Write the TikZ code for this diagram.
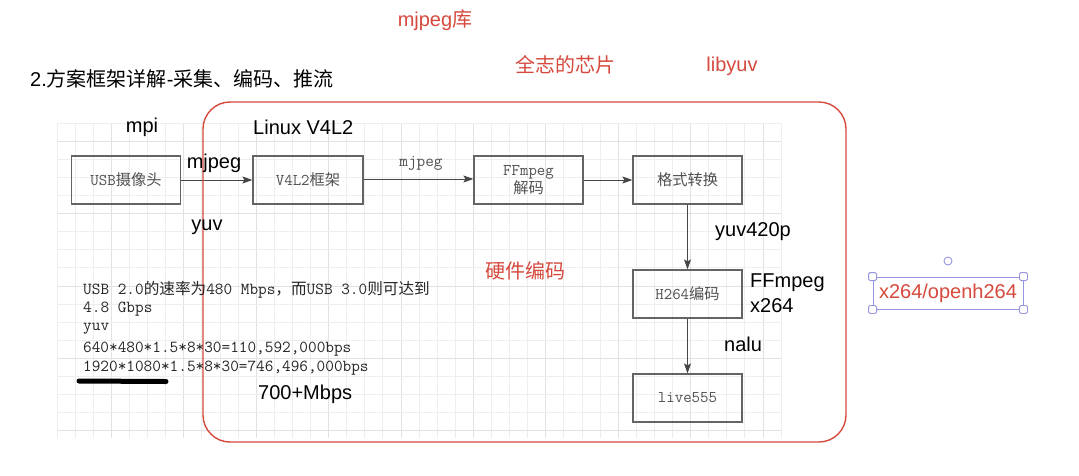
\documentclass[tikz,border=0pt]{standalone}
\usepackage{fontspec}
\setmainfont{Liberation Sans}
\newfontfamily\cjk{Noto Sans CJK SC}
\newfontfamily\cjkm[Scale=0.93]{Noto Sans CJK SC}
\usetikzlibrary{arrows.meta}
\definecolor{redc}{RGB}{214,74,62}
\definecolor{boxtxt}{RGB}{80,80,80}
\definecolor{boxline}{RGB}{100,100,100}
\definecolor{arrowc}{RGB}{70,70,70}
\definecolor{gridc}{RGB}{238,238,238}
\definecolor{gridm}{RGB}{226,226,226}
\definecolor{lav}{RGB}{150,150,225}
\newcommand\zh[1]{{\cjk #1}}
\newcommand\zm[1]{{\cjkm #1}}
\tikzset{
  lbl/.style={font=\fontsize{20}{24}\selectfont, inner sep=0pt, text=black},
  redlbl/.style={lbl, text=redc},
  stepbox/.style={draw=boxline, line width=1.2pt, minimum width=109pt, minimum height=48pt,
    inner sep=0pt, font=\ttfamily\fontsize{16.4}{19}\selectfont, text=boxtxt, align=center},
  monotxt/.style={font=\ttfamily\fontsize{16.8}{19}\selectfont, inner sep=0pt, text=black!85},
  flow/.style={draw=arrowc, line width=1pt, -{Stealth[length=10pt,width=7pt,inset=2pt]}},
  handle/.style={draw=lav, fill=white, line width=0.9pt, rounded corners=1.5pt},
}
\begin{document}
\begin{tikzpicture}[x=1pt,y=-1pt]
\path[use as bounding box, fill=white] (0,0) rectangle (1079,475);
% grid
\foreach \i in {0,...,40}{
  \pgfmathtruncatemacro\m{mod(\i,4)}
  \ifnum\m=3 \draw[gridm, line width=0.8pt] ({57+18.1*\i},123) -- ({57+18.1*\i},438);
  \else \draw[gridc, line width=0.8pt] ({57+18.1*\i},123) -- ({57+18.1*\i},438); \fi
}
\foreach \j in {0,...,17}{
  \pgfmathtruncatemacro\m{mod(\j,4)}
  \ifnum\m=1 \draw[gridm, line width=0.8pt] (57,{123+18.1*\j}) -- (781,{123+18.1*\j});
  \else \draw[gridc, line width=0.8pt] (57,{123+18.1*\j}) -- (781,{123+18.1*\j}); \fi
}
% boxes
\node[stepbox] (usb) at (126,180) {USB\zm{摄像头}};
\node[stepbox, minimum width=110pt] (v4l2) at (308,180) {V4L2\zm{框架}};
\node[stepbox] (ff) at (528.5,180) {FFmpeg\\[-1pt]\zm{解码}};
\node[stepbox] (fmt) at (687.5,180) {\zm{格式转换}};
\node[stepbox] (h264) at (687.5,294) {H264\zm{编码}};
\node[stepbox] (live) at (687.5,398) {live555};
% connectors
\draw[flow] (usb) -- (v4l2);
\draw[flow] (v4l2.east |- 0,179) -- (ff.west |- 0,179);
\draw[flow] (ff) -- (fmt);
\draw[flow] (fmt) -- (h264);
\draw[flow] (h264) -- (live);
% red frame
\draw[redc, line width=1.4pt, rounded corners=27pt] (203,102) rectangle (846,442);
% black labels
\node[lbl] (mpi) at (142,127) {mpi};
\node[lbl, anchor=west] (linux) at (253,127) {Linux V4L2};
\node[lbl] (mj1) at (214,163) {mjpeg};
\node[lbl] (yuv) at (207,227) {yuv};
\node[monotxt, text=boxtxt] (mj2) at (421,163) {mjpeg};
\node[lbl, anchor=west] (y420) at (715,232) {yuv420p};
\node[lbl, anchor=west] (ffl) at (750,283) {FFmpeg};
\node[lbl, anchor=west] (x264) at (750,306) {x264};
\node[lbl, anchor=west] (nalu) at (724,344) {nalu};
\node[lbl, anchor=west] (mbps) at (258,394) {700+Mbps};
\node[lbl, anchor=west] (title) at (30,79) {2.\zh{方案框架详解}-\zh{采集、编码、推流}};
% red labels
\node[redlbl] (mjlib) at (435,20) {mjpeg\zh{库}};
\node[redlbl] (chip) at (565,65) {\zh{全志的芯片}};
\node[redlbl] (libyuv) at (732,66) {libyuv};
\node[redlbl] (hw) at (525,271) {\zh{硬件编码}};
% text block
\node[monotxt, anchor=west] (t1) at (83,290) {USB 2.0\zm{的速率为}480 Mbps\zm{，而}USB 3.0\zm{则可达到}};
\node[monotxt, anchor=west] (t2) at (83,309) {4.8 Gbps};
\node[monotxt, anchor=west] (t3) at (83,329) {yuv};
\node[monotxt, anchor=west] (t4) at (83,349) {640*480*1.5*8*30=110,592,000bps};
\node[monotxt, anchor=west] (t5) at (83,368) {1920*1080*1.5*8*30=746,496,000bps};
\draw[black, line width=5pt, line cap=round] (79,381) -- (166,381.5);
% selected text box
\node[redlbl, draw=lav, line width=0.9pt, minimum width=150pt, minimum height=32pt] (sel) at (948,293) {x264/openh264};
\foreach \c in {north west, north east, south west, south east}
  \draw[handle] ([shift={(-4,-4)}]sel.\c) rectangle ([shift={(4,4)}]sel.\c);
\draw[draw=lav, fill=white, line width=0.9pt] (948,261) circle (4);
\end{tikzpicture}
\end{document}
